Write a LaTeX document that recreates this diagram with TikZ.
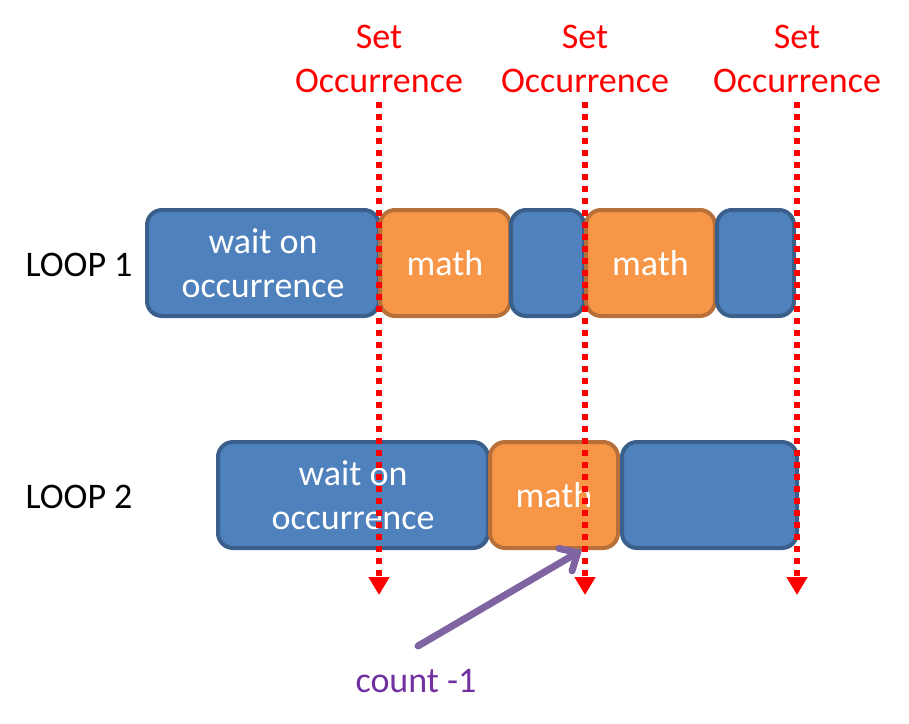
\documentclass[tikz,border=0pt]{standalone}
\usepackage{fontspec}
\setmainfont{Carlito}
\usetikzlibrary{arrows.meta}

\definecolor{taskblue}{HTML}{4F81BD}
\definecolor{taskblueedge}{HTML}{3A5F8B}
\definecolor{taskorange}{HTML}{F79646}
\definecolor{taskorangeedge}{HTML}{B8703A}
\definecolor{countarrow}{HTML}{8064A2}
\definecolor{counttext}{HTML}{7030A0}

\tikzset{
  bigfont/.style={font=\fontsize{18}{22}\selectfont},
  task/.style={draw, rounded corners=7.5pt, line width=2pt, minimum height=53pt,
    inner sep=0pt, align=center, text=white, bigfont},
  waitbox/.style={task, fill=taskblue, draw=taskblueedge},
  mathbox/.style={task, fill=taskorange, draw=taskorangeedge},
  setlabel/.style={text=red, align=center, bigfont},
  occline/.style={draw=red, line width=2.75pt, dash pattern=on 2.85pt off 3.15pt,
    -{Triangle[width=10pt,length=9pt]}},
}

\begin{document}
\begin{tikzpicture}[x=0.5pt, y=-0.5pt]
  \useasboundingbox (0,0) rectangle (909,723);

  % loop 1
  \node[bigfont] (loop1) at (79,265) {LOOP 1};
  \node[waitbox, minimum width=116pt] (wait1) at (263,263) {wait on\\occurrence};
  \node[mathbox, minimum width=65pt] (math1) at (445,263) {math};
  \node[waitbox, minimum width=36.5pt] (wait1b) at (547.5,263) {};
  \node[mathbox, minimum width=64.5pt] (math1b) at (650.5,263) {math};
  \node[waitbox, minimum width=38.5pt] (wait1c) at (755.5,263) {};

  % loop 2
  \node[bigfont] (loop2) at (79,497) {LOOP 2};
  \node[waitbox, minimum width=135pt] (wait2) at (353,495) {wait on\\occurrence};
  \node[mathbox, minimum width=64pt] (math2) at (554,495) {math};
  \node[waitbox, minimum width=87.5pt] (wait2b) at (709.5,495) {};

  % set occurrence markers
  \foreach \i/\x in {1/379, 2/585, 3/797} {
    \node[setlabel] (set\i) at (\x,59) {Set\\Occurrence};
    \coordinate (top\i) at (\x,102);
    \coordinate (bot\i) at (\x,595);
    \draw[occline] (top\i) -- (bot\i);
  }

  % count
  \node[text=counttext, bigfont] (count) at (416,681) {count -1};
  \coordinate (cstart) at (418,646);
  \coordinate (cend) at (582,550);
  \draw[countarrow, line width=3.5pt, line cap=round,
    -{Straight Barb[length=7pt,width=13pt,line cap=round]}] (cstart) -- (cend);
\end{tikzpicture}
\end{document}
